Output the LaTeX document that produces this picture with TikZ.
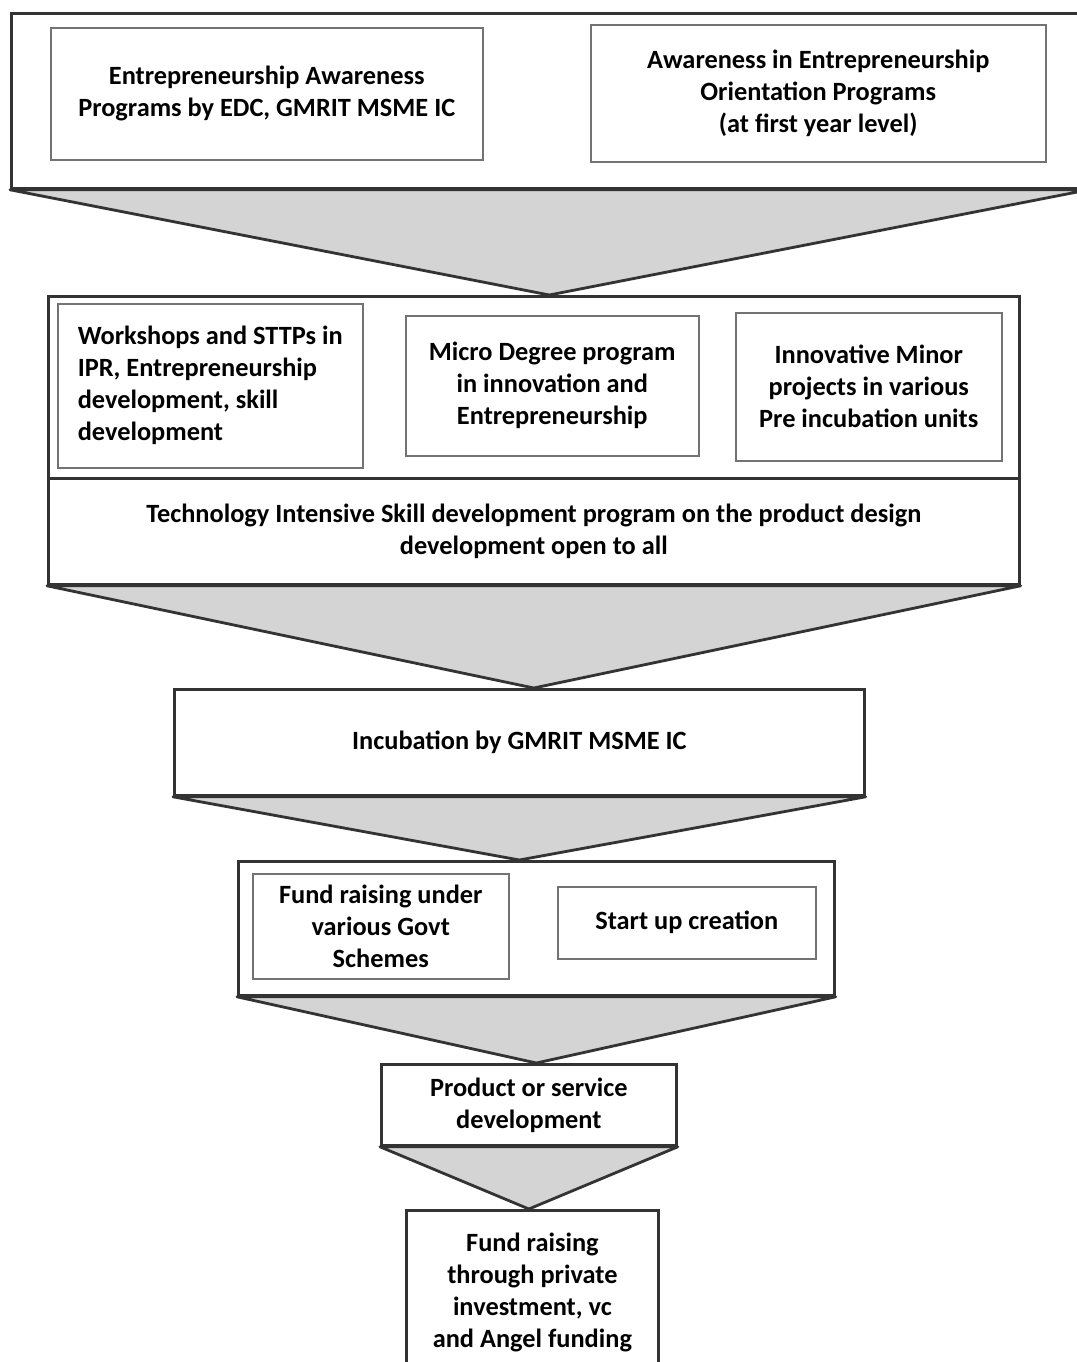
\documentclass[tikz,border=0pt]{standalone}
\usepackage{fontspec}
\setmainfont{Carlito}
\usetikzlibrary{backgrounds}
\definecolor{funnelgray}{RGB}{212,212,212}
\newcommand{\boxfont}{\fontsize{15}{18.2}\selectfont\bfseries}
\tikzset{
  stagebox/.style={draw=black!80, line width=1.6pt, fill=white, anchor=north west, inner sep=0pt, align=center, font=\boxfont},
  itembox/.style={draw=black!55, line width=0.9pt, fill=white, anchor=north west, inner sep=0pt, align=center, font=\boxfont},
  funnel/.style={fill=funnelgray, draw=black!80, line width=1.6pt, line join=round}
}
\begin{document}
\begin{tikzpicture}[x=0.02cm, y=-0.02cm]
\useasboundingbox (0,0) rectangle (1076,1362);
% stage 1
\node[stagebox, minimum width=21.52cm, minimum height=3.5cm] (s1) at (10,12) {};
\node[itembox, minimum width=8.64cm, minimum height=2.64cm] (e1) at (50,27) {Entrepreneurship Awareness\\Programs by EDC, GMRIT MSME IC};
\node[itembox, minimum width=9.1cm, minimum height=2.74cm] (e2) at (590,24) {Awareness in Entrepreneurship\\Orientation Programs\\(at first year level)};
% stage 2
\node[stagebox, minimum width=19.42cm, minimum height=3.64cm] (s2) at (47,295) {};
\node[itembox, text width=5.3cm, inner xsep=0.4cm, minimum height=3.28cm, align=flush left] (w1) at (57,303) {Workshops and STTPs in\\IPR, Entrepreneurship\\development, skill\\development};
\node[itembox, minimum width=5.86cm, minimum height=2.8cm] (w2) at (405,315) {Micro Degree program\\in innovation and\\Entrepreneurship};
\node[itembox, minimum width=5.32cm, minimum height=2.96cm] (w3) at (735,312) {Innovative Minor\\projects in various\\Pre incubation units};
\node[stagebox, minimum width=19.42cm, minimum height=2.12cm] (tech) at (47,477) {Technology Intensive Skill development program on the product design\\development open to all};
% stage 3
\node[stagebox, minimum width=13.8cm, minimum height=2.12cm] (s3) at (173,688) {Incubation by GMRIT MSME IC};
% stage 4
\node[stagebox, minimum width=11.92cm, minimum height=2.68cm] (s4) at (237,860) {};
\node[itembox, minimum width=5.12cm, minimum height=2.1cm] (f1) at (252,873) {Fund raising under\\various Govt\\Schemes};
\node[itembox, minimum width=5.16cm, minimum height=1.44cm] (f2) at (557,886) {Start up creation};
% stage 5 and 6
\node[stagebox, minimum width=5.9cm, minimum height=1.62cm] (s5) at (380,1063) {Product or service\\development};
\node[stagebox, minimum width=5.04cm, minimum height=3.3cm] (s6) at (405,1209) {Fund raising\\through private\\investment, vc\\and Angel funding};
% funnels
\begin{scope}[on background layer]
\draw[funnel] (s1.south west) -- (s1.south east) -- (s1.south |- s2.north) -- cycle;
\draw[funnel] (tech.south west) -- (tech.south east) -- (tech.south |- s3.north) -- cycle;
\draw[funnel] (s3.south west) -- (s3.south east) -- (s3.south |- s4.north) -- cycle;
\draw[funnel] (s4.south west) -- (s4.south east) -- (s4.south |- s5.north) -- cycle;
\draw[funnel] (s5.south west) -- (s5.south east) -- (s5.south |- s6.north) -- cycle;
\end{scope}
\end{tikzpicture}
\end{document}
